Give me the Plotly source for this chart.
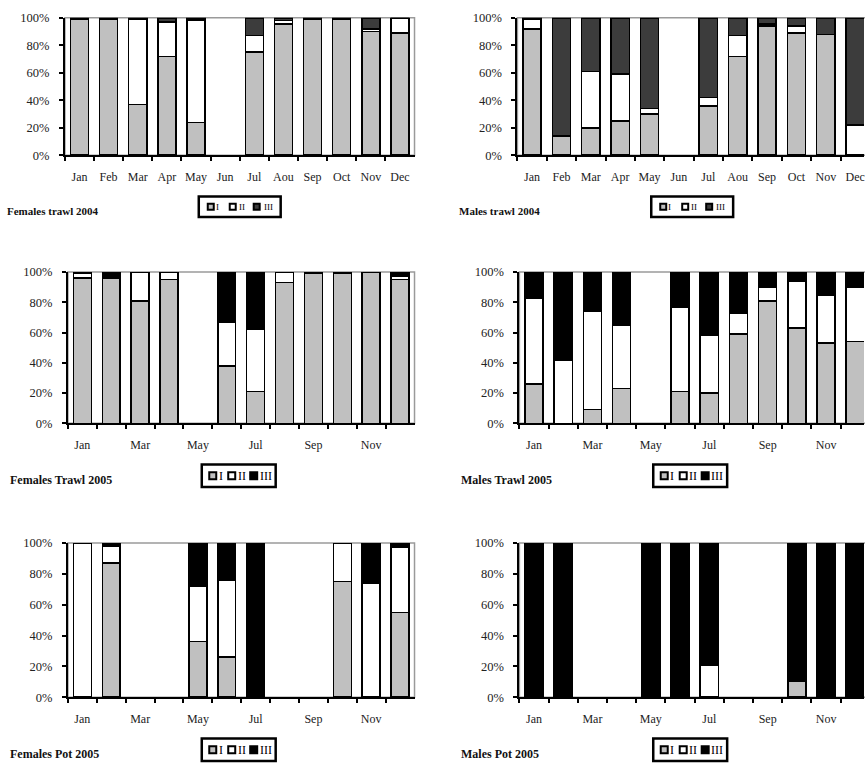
import plotly.graph_objects as go

# ---- data: percentage of each maturity stage (I, II, III) per month ----
months_2004 = ["Jan", "Feb", "Mar", "Apr", "May", "Jun", "Jul", "Aou", "Sep", "Oct", "Nov", "Dec"]
months_2005 = ["Jan", "Feb", "Mar", "Apr", "May", "Jun", "Jul", "Aug", "Sep", "Oct", "Nov", "Dec"]
labels_2005 = ["Jan", "", "Mar", "", "May", "", "Jul", "", "Sep", "", "Nov", ""]
stages = ["I", "II", "III"]

# Females trawl 2004
ft04_I = [99, 99, 37, 72, 24, None, 75, 95.5, 99, 99, 90, 89]
ft04_II = [0, 0, 62, 25, 74.5, None, 12, 2.5, 0, 0, 2, 11]
ft04_III = [1, 1, 1, 3, 1.5, None, 13, 2, 1, 1, 8, 0]

# Males trawl 2004
mt04_I = [92, 14, 20, 25, 30, None, 36, 72, 94, 89, 88, 0]
mt04_II = [7, 0, 41, 34, 4, None, 6, 15, 1.5, 5, 0, 22]
mt04_III = [1, 86, 39, 41, 66, None, 58, 13, 4.5, 6, 12, 78]

# Females trawl 2005
ft05_I = [96, 96, 81, 95, None, 38, 21, 93, 99, 99, 100, 95]
ft05_II = [3, 0, 19, 5, None, 29, 41, 7, 0, 0, 0, 2.5]
ft05_III = [1, 4, 0, 0, None, 33, 38, 0, 1, 1, 0, 2.5]

# Males trawl 2005
mt05_I = [26, 0, 9, 23, None, 21, 20, 59, 81, 63, 53, 54]
mt05_II = [57, 42, 65, 42, None, 56, 38, 14, 9, 31, 32, 36]
mt05_III = [17, 58, 26, 35, None, 23, 42, 27, 10, 6, 15, 10]

# Females pot 2005
fp05_I = [0, 87, None, None, 36, 26, 0, None, None, 75, 0, 55]
fp05_II = [100, 11, None, None, 36, 50, 0, None, None, 25, 74, 42]
fp05_III = [0, 2, None, None, 28, 24, 100, None, None, 0, 26, 3]

# Males pot 2005
mp05_I = [0, 0, None, None, 0, 0, 0, None, None, 10.5, 0, 0]
mp05_II = [0, 0, None, None, 0, 0, 21, None, None, 0, 0, 0]
mp05_III = [100, 100, None, None, 100, 100, 79, None, None, 89.5, 100, 100]

titles = ["Females trawl 2004", "Males trawl 2004",
          "Females Trawl 2005", "Males Trawl 2005",
          "Females Pot 2005", "Males Pot 2005"]

panels = [
    (months_2004, months_2004, (ft04_I, ft04_II, ft04_III)),
    (months_2004, months_2004, (mt04_I, mt04_II, mt04_III)),
    (months_2005, labels_2005, (ft05_I, ft05_II, ft05_III)),
    (months_2005, labels_2005, (mt05_I, mt05_II, mt05_III)),
    (months_2005, labels_2005, (fp05_I, fp05_II, fp05_III)),
    (months_2005, labels_2005, (mp05_I, mp05_II, mp05_III)),
]

colors_2004 = ["#c0c0c0", "#ffffff", "#3c3c3c"]
colors_2005 = ["#c0c0c0", "#ffffff", "#000000"]

W, H = 865, 768
SERIF = "Liberation Serif"


def fx(x):
    return x / W


def fy(y):
    return 1 - y / H


# panel geometry in pixels: (left, right, top, bottom, x-range end)
geom = [
    (65, 415, 11, 151, 11.5),
    (518, 865, 11, 151, 11.3),
    (68, 415, 270, 424, 11.5),
    (520, 865, 270, 424, 11.3),
    (68, 415, 546, 703, 11.5),
    (520, 865, 546, 703, 11.3),
]

fig = go.Figure()
shapes = []
annotations = []
layout_axes = {}

for i, ((cats, ticktext, series), (l, r, t, b, xend)) in enumerate(zip(panels, geom)):
    n = i + 1
    xa = "x" if n == 1 else f"x{n}"
    ya = "y" if n == 1 else f"y{n}"
    colors = colors_2004 if i < 2 else colors_2005
    for name, vals, col in zip(stages, series, colors):
        fig.add_trace(go.Bar(
            x=cats, y=vals, name=name, xaxis=xa, yaxis=ya,
            marker=dict(color=col, line=dict(color="#000000", width=1.5)),
            showlegend=False,
        ))

    layout_axes[f"xaxis{'' if n == 1 else n}"] = dict(
        domain=[fx(l), fx(r)], anchor=ya, type="category",
        categoryarray=cats, categoryorder="array",
        tickmode="array", tickvals=cats, ticktext=ticktext,
        tickson="boundaries", ticks="outside", ticklen=4, tickwidth=2,
        tickcolor="#000000", showline=True, linecolor="#000000", linewidth=2,
        showgrid=False, zeroline=False, range=[-0.5, xend], tickangle=0,
        tickfont=dict(family=SERIF, size=12, color="#222222"),
        ticklabelstandoff=9, fixedrange=True,
    )
    layout_axes[f"yaxis{'' if n == 1 else n}"] = dict(
        domain=[fy(b), fy(t)], anchor=xa, range=[0, 100],
        tickmode="array", tickvals=[0, 20, 40, 60, 80, 100],
        ticktext=["0%", "20%", "40%", "60%", "80%", "100%"],
        ticks="outside", ticklen=4, tickwidth=2, tickcolor="#000000",
        showline=True, linecolor="#000000", linewidth=2,
        showgrid=False, zeroline=False,
        tickfont=dict(family=SERIF, size=12.5, color="#222222"),
        ticklabelstandoff=7, fixedrange=True,
    )

    # grey plot-area frame (top and right edges)
    shapes.append(dict(type="rect", xref=f"{xa} domain", yref=f"{ya} domain",
                       x0=0, x1=1 if r < W else 1.05, y0=0, y1=1,
                       line=dict(color="#9a9a9a", width=1.5), layer="below"))

    # panel caption
    small = i < 2
    title_y = b + (57 if small else 58)
    annotations.append(dict(
        text=f"<b>{titles[i]}</b>", xref="paper", yref="paper",
        x=fx(l - 60), y=fy(title_y), xanchor="left", yanchor="middle",
        showarrow=False, font=dict(family=SERIF, size=11 if small else 12, color="#111111"),
    ))

    # boxed key of the three stages
    L = l + 134
    if small:
        box_w, box_h, top = 82, 21, b + 42
        sq, sq_cx, txt_x, fsize = 6, [12, 34, 58], [15, 38, 63], 9
    else:
        box_w, box_h, top = 74, 23, b + 42
        sq, sq_cx, txt_x, fsize = 7, [11, 30, 52], [15, 34, 56], 12
    shapes.append(dict(type="rect", xref="paper", yref="paper",
                       x0=fx(L), x1=fx(L + box_w), y0=fy(top + box_h), y1=fy(top),
                       line=dict(color="#000000", width=2.5), fillcolor="#ffffff"))
    cy = top + box_h / 2
    for name, col, cx, tx in zip(stages, colors, sq_cx, txt_x):
        shapes.append(dict(type="rect", xref="paper", yref="paper",
                           x0=fx(L + cx - sq / 2), x1=fx(L + cx + sq / 2),
                           y0=fy(cy + sq / 2), y1=fy(cy - sq / 2),
                           line=dict(color="#000000", width=2), fillcolor=col))
        annotations.append(dict(
            text=name, xref="paper", yref="paper", x=fx(L + tx), y=fy(cy),
            xanchor="left", yanchor="middle", showarrow=False,
            font=dict(family=SERIF, size=fsize, color="#000000"),
        ))

fig.update_layout(
    width=W, height=H, margin=dict(l=0, r=0, t=0, b=0),
    paper_bgcolor="#ffffff", plot_bgcolor="#ffffff",
    barmode="stack", bargap=0.38, showlegend=False,
    shapes=shapes, annotations=annotations,
    **layout_axes,
)

fig.write_html("out.html")
